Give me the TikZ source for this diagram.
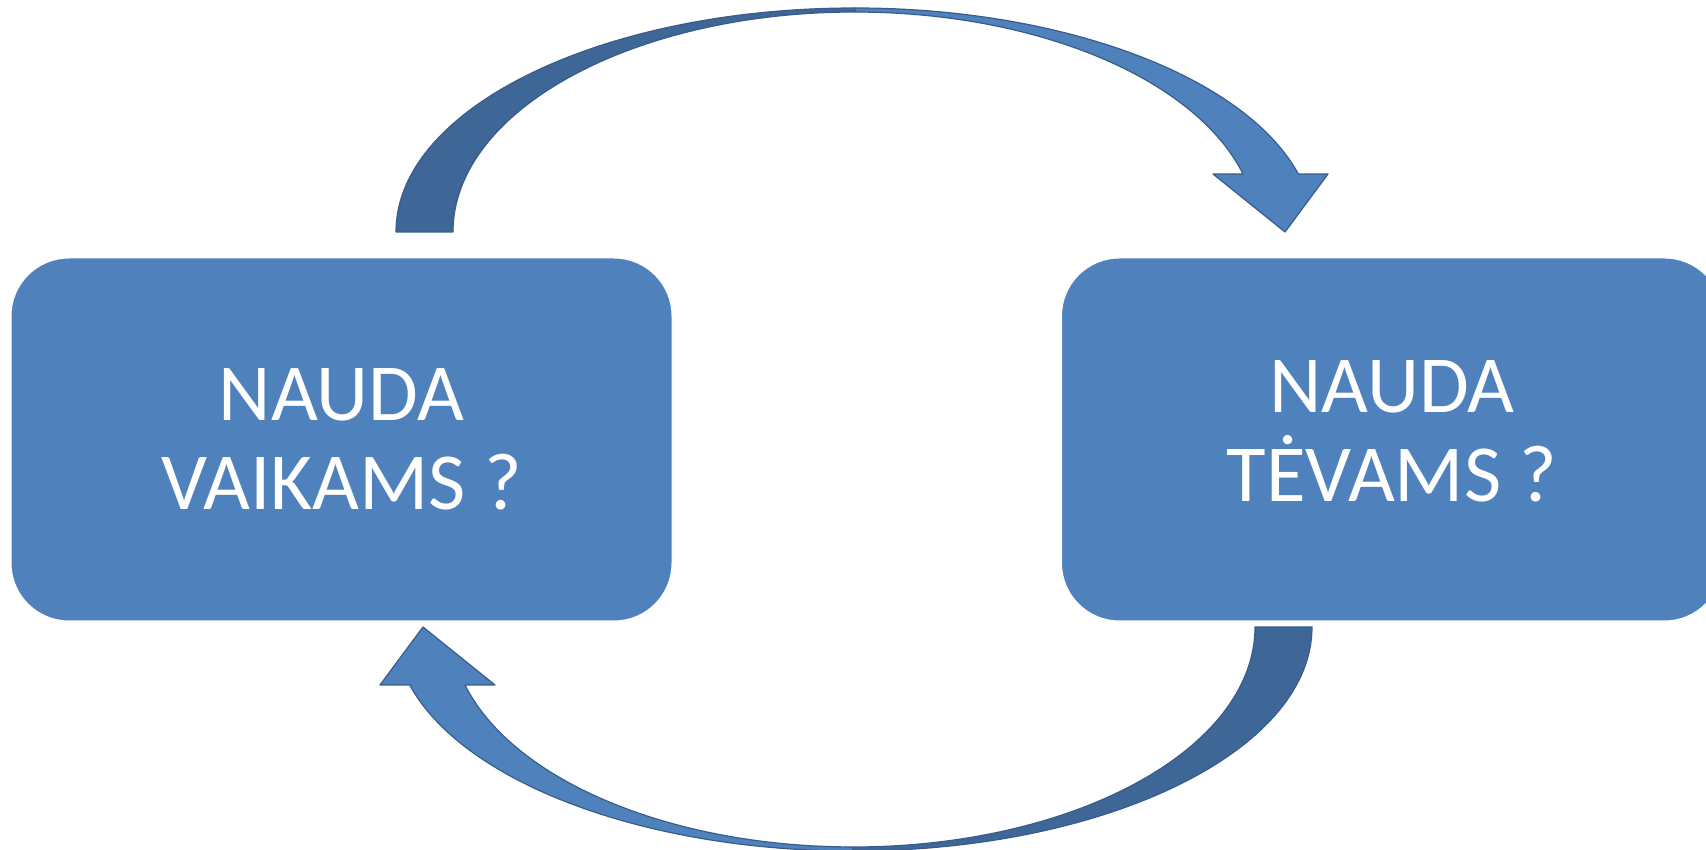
\documentclass[tikz,border=0pt]{standalone}
\usepackage{fontspec}
\setmainfont{Carlito}
\usetikzlibrary{positioning}

\definecolor{boxblue}{HTML}{4F81BD}
\definecolor{backblue}{HTML}{3E6696}
\definecolor{edgeblue}{HTML}{385D8A}

\tikzset{
  money/.style={rectangle, rounded corners=58pt, fill=boxblue, draw=white, line width=1pt,
    minimum width=661pt, minimum height=363pt, text=white, align=center,
    font=\fontsize{81}{89}\selectfont},
  ribbonback/.style={fill=backblue, draw=edgeblue, line width=1.2pt, line join=round},
  ribbonfront/.style={fill=boxblue, draw=edgeblue, line width=1.2pt, line join=round}
}

\begin{document}
\begin{tikzpicture}[x=1pt, y=1pt]
\useasboundingbox (0,0) rectangle (1706,849);

\path (341.5,409.5) node[money] (children) {NAUDA\\VAIKAMS ?};
\path (1392,409.5) node[money, text depth=16pt] (parents) {NAUDA\\TĖVAMS ?};

\coordinate (mid) at (854,419.5);

\foreach \turn in {0,180} {
\begin{scope}[rotate around={\turn:(mid)}]
\draw[ribbonback] (396,617) arc[start angle=180, end angle=90, x radius=459, y radius=224]
	-- (855,837) arc[start angle=90, end angle=180, x radius=402, y radius=220] -- cycle;
\draw[ribbonfront] (855,841) arc[start angle=90, end angle=15, x radius=459, y radius=224]
	-- (1328,675) -- (1285,617) -- (1213,675) -- (1243,675)
	arc[start angle=15.3, end angle=90, x radius=402, y radius=220] -- cycle;
\end{scope}
}
\end{tikzpicture}
\end{document}
